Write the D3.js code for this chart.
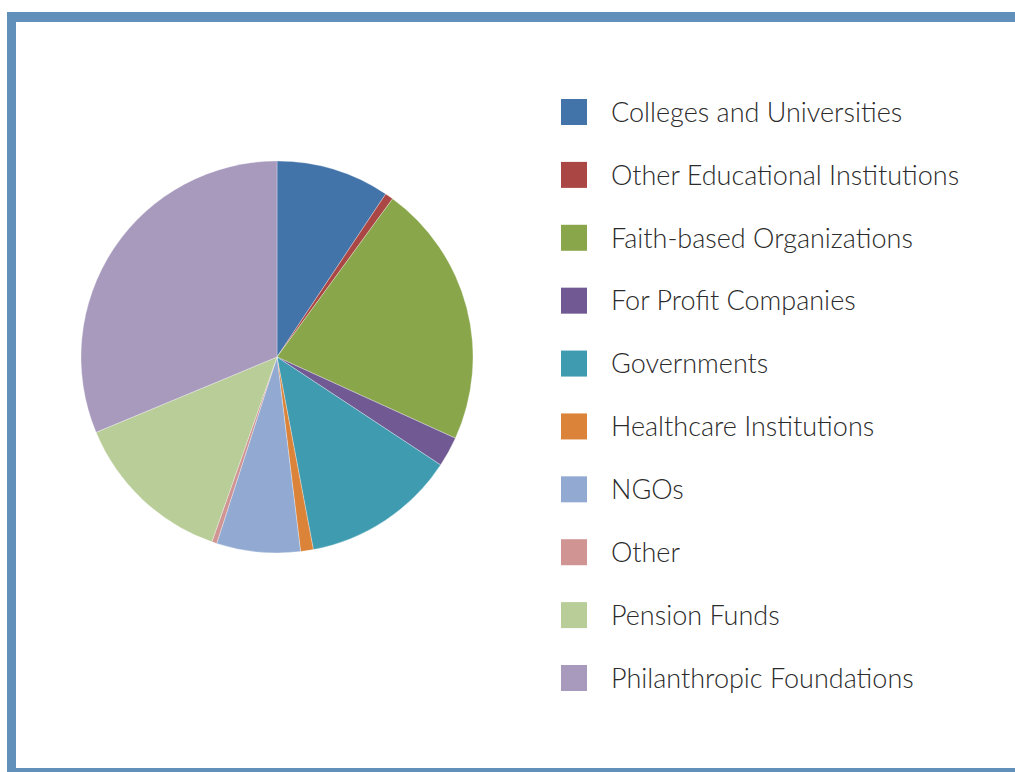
<!DOCTYPE html>
<html>
<head>
<meta charset="utf-8">
<script src="https://cdn.jsdelivr.net/npm/d3@7"></script>
<style>
  body { margin: 0; background: #fff; }
  svg { display: block; }
</style>
</head>
<body>
<svg id="chart"></svg>
<script>
// Categories and their shares (percent)
const categories = [
    "Colleges and Universities",
    "Other Educational Institutions",
    "Faith-based Organizations",
    "For Profit Companies",
    "Governments",
    "Healthcare Institutions",
    "NGOs",
    "Other",
    "Pension Funds",
    "Philanthropic Foundations"
];
const shares = [9.36, 0.68, 21.76, 2.48, 12.75, 1.05, 6.9, 0.41, 13.33, 31.28];
const sliceColors = [
    "#4273a9", "#aa4644", "#89a64b", "#715a93", "#3f9bb0",
    "#db8339", "#92aad2", "#d09493", "#b8cd97", "#a89abd"
];

const W = 1015, H = 772;
const svg = d3.select("#chart").attr("width", W).attr("height", H);

// Frame (runs off the right edge)
const frameColor = "#6190bb";
svg.append("rect").attr("x", 7).attr("y", 12).attr("width", W).attr("height", 10).attr("fill", frameColor);
svg.append("rect").attr("x", 7).attr("y", 12).attr("width", 9).attr("height", H).attr("fill", frameColor);
svg.append("rect").attr("x", 7).attr("y", 768).attr("width", W).attr("height", 10).attr("fill", frameColor);

// Pie
const data = categories.map((c, i) => ({ name: c, value: shares[i], color: sliceColors[i] }));
const pie = d3.pie().value(d => d.value).sort(null);
const arc = d3.arc().innerRadius(0).outerRadius(196);

const pieGroup = svg.append("g").attr("transform", "translate(277,357)");
pieGroup.selectAll("path")
    .data(pie(data))
    .enter()
    .append("path")
    .attr("d", arc)
    .attr("fill", d => d.data.color)
    .attr("stroke", "#ffffff")
    .attr("stroke-width", 0.6)
    .attr("stroke-opacity", 0.5);

// Legend
const legendY = d3.scalePoint().domain(categories).range([112, 678]);
const legend = svg.append("g");
const rows = legend.selectAll(".row")
    .data(data)
    .enter()
    .append("g")
    .attr("class", "row")
    .attr("transform", d => `translate(561,${legendY(d.name)})`);

rows.append("rect")
    .attr("x", 0).attr("y", -13)
    .attr("width", 26).attr("height", 26)
    .attr("fill", d => d.color);

rows.append("text")
    .attr("x", 50).attr("y", 0)
    .attr("dy", "0.36em")
    .attr("font-family", "Lato, sans-serif")
    .attr("font-weight", 300)
    .attr("font-size", 27)
    .attr("fill", "#2b2b2b")
    .text(d => d.name);
</script>
</body>
</html>
